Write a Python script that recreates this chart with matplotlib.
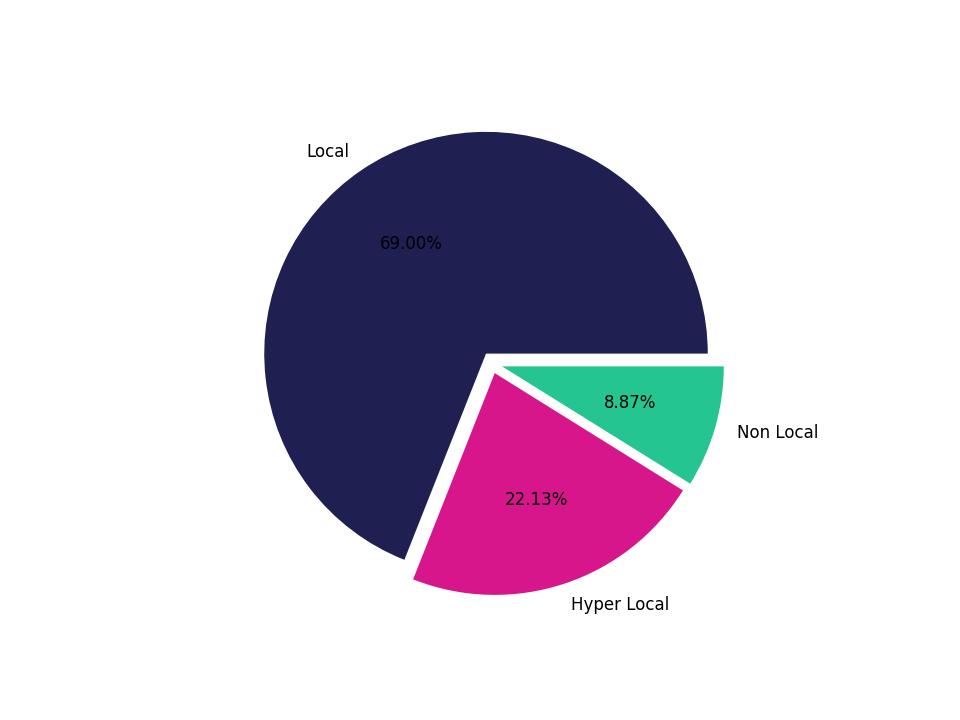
import matplotlib
matplotlib.use("Agg")
import matplotlib.pyplot as plt

labels = ['Local', 'Hyper Local', 'Non Local']
shares = [69.00, 22.13, 8.87]
colors = ['#1f1f52', '#d6168a', '#25c592']
explode = [0, 0.1, 0.1]

# small extra shift of the pulled-out slices, in data units
nudge = [(0, 0), (0.008, 0.007), (-0.024, -0.030)]

fig, ax = plt.subplots(figsize=(6.4, 4.8), dpi=150)
wedges, texts, autotexts = ax.pie(shares, labels=labels, colors=colors,
                                  explode=explode, autopct='%.2f%%',
                                  textprops={'fontsize': 8})
for w, t, at, (dx, dy) in zip(wedges, texts, autotexts, nudge):
    cx, cy = w.center
    w.set_center((cx + dx, cy + dy))
    x, y = t.get_position()
    t.set_position((x + dx, y + dy))
    x, y = at.get_position()
    at.set_position((x + dx, y + dy))

# the original view is centred on the exploded pie, not on the circle
ax.set_xlim(-1.25 + 0.027, 1.25 + 0.027)
ax.set_ylim(-1.25 - 0.045, 1.25 - 0.045)
plt.savefig("out.png")
